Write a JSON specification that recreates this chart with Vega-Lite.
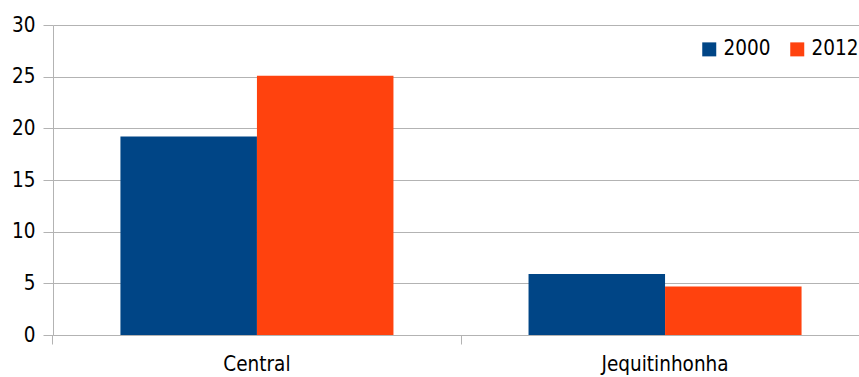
{
  "$schema": "https://vega.github.io/schema/vega-lite/v6.json",
  "autosize": "none",
  "padding": {"left": 53, "top": 25, "right": 0, "bottom": 42},
  "width": 806,
  "height": 310,
  "background": "white",
  "config": {
    "view": {"stroke": null},
    "font": "'DejaVu Sans Condensed', 'Liberation Sans', sans-serif"
  },
  "data": {
    "values": [
      {"region": "Central", "year": "2000", "value": 19.2},
      {"region": "Central", "year": "2012", "value": 25.1},
      {"region": "Jequitinhonha", "year": "2000", "value": 5.9},
      {"region": "Jequitinhonha", "year": "2012", "value": 4.7}
    ]
  },
  "mark": {"type": "bar"},
  "encoding": {
    "x": {
      "field": "region",
      "type": "nominal",
      "title": null,
      "scale": {"paddingInner": 0.331, "paddingOuter": 0.153, "align": 0.54},
      "axis": {
        "labelAngle": 0,
        "labelFont": "'DejaVu Sans Condensed', 'Liberation Sans', sans-serif",
        "labelFontSize": 20.5,
        "labelColor": "#000000",
        "labelPadding": 10,
        "tickSize": 9,
        "tickColor": "#b3b3b3",
        "tickWidth": 1,
        "bandPosition": -0.247,
        "domainColor": "#b3b3b3",
        "domainWidth": 1,
        "grid": false
      }
    },
    "xOffset": {"field": "year", "type": "nominal"},
    "y": {
      "field": "value",
      "type": "quantitative",
      "title": null,
      "scale": {"domain": [0, 30], "nice": false},
      "axis": {
        "values": [0, 5, 10, 15, 20, 25, 30],
        "labelFont": "'DejaVu Sans Condensed', 'Liberation Sans', sans-serif",
        "labelFontSize": 20.5,
        "labelColor": "#000000",
        "labelPadding": 8,
        "tickSize": 10,
        "tickColor": "#b3b3b3",
        "domainColor": "#b3b3b3",
        "gridColor": "#b3b3b3",
        "grid": true
      }
    },
    "color": {
      "field": "year",
      "type": "nominal",
      "title": null,
      "scale": {"domain": ["2000", "2012"], "range": ["#004586", "#ff420e"]},
      "legend": {
        "orient": "none",
        "legendX": 646,
        "legendY": 14,
        "direction": "horizontal",
        "symbolType": "square",
        "symbolSize": 196,
        "symbolStrokeWidth": 0,
        "labelFont": "'DejaVu Sans Condensed', 'Liberation Sans', sans-serif",
        "labelFontSize": 20.5,
        "labelColor": "#000000",
        "labelOffset": 4,
        "columnPadding": 16
      }
    }
  }
}
